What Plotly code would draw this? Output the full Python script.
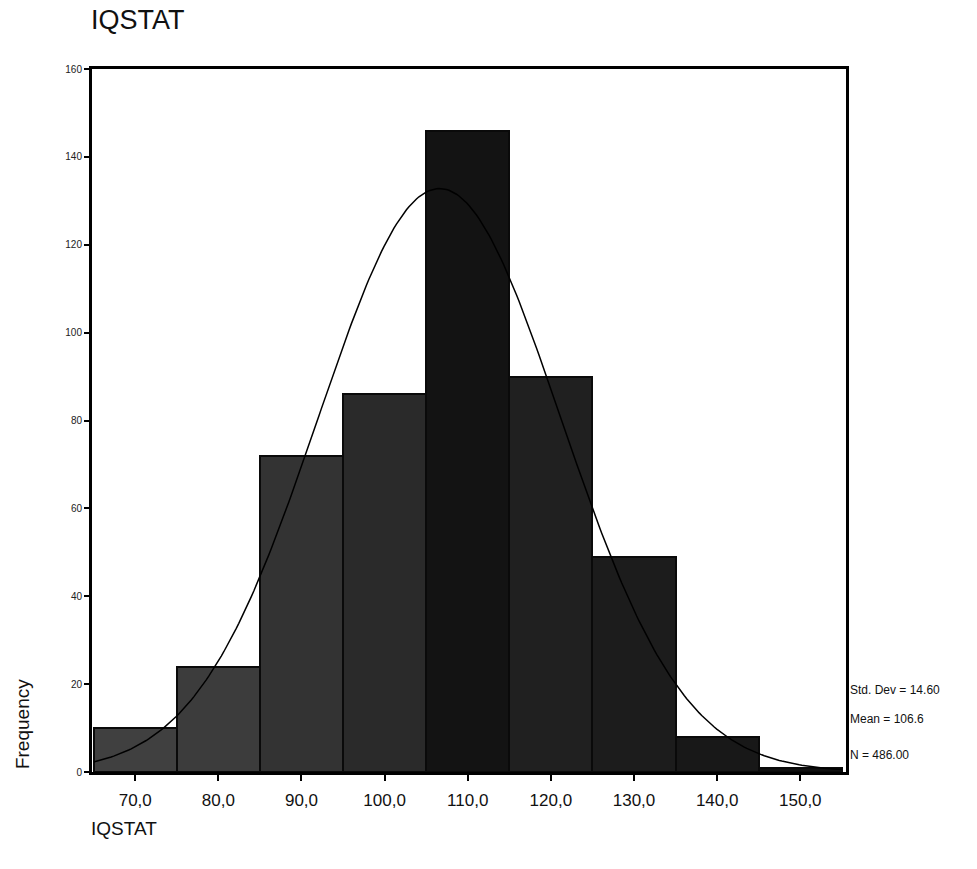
import numpy as np
import plotly.graph_objects as go

# Data
bin_centers = [70, 80, 90, 100, 110, 120, 130, 140, 150]
frequencies = [10, 24, 72, 86, 146, 90, 49, 8, 1]
x_tick_values = [70, 80, 90, 100, 110, 120, 130, 140, 150]
x_tick_labels = ["70,0", "80,0", "90,0", "100,0", "110,0", "120,0", "130,0", "140,0", "150,0"]
y_tick_values = [0, 20, 40, 60, 80, 100, 120, 140, 160]
STD_DEV = 14.60
MEAN = 106.6
N = 486.00
BIN_WIDTH = 10

bar_colors = ["#404040", "#3c3c3c", "#333333", "#2a2a2a", "#131313",
              "#202020", "#1c1c1c", "#181818", "#101010"]

# Normal curve from reported statistics
xc = np.linspace(65, 155, 300)
yc = N * BIN_WIDTH / (STD_DEV * np.sqrt(2 * np.pi)) * np.exp(-0.5 * ((xc - MEAN) / STD_DEV) ** 2)

fig = go.Figure()
fig.add_trace(go.Bar(
    x=bin_centers, y=frequencies, width=BIN_WIDTH,
    marker=dict(color=bar_colors, line=dict(color="#0a0a0a", width=2)),
    showlegend=False, hoverinfo="x+y",
))
fig.add_trace(go.Scatter(
    x=xc, y=yc, mode="lines", line=dict(color="#000000", width=1.5),
    showlegend=False, hoverinfo="skip",
))

font_fam = "Liberation Sans, Arial, sans-serif"
fig.update_layout(
    width=977, height=869,
    margin=dict(l=92, r=131, t=69, b=97),
    paper_bgcolor="white", plot_bgcolor="white",
    bargap=0,
    font=dict(family=font_fam, color="#111111"),
    xaxis=dict(
        range=[64.8, 155.5], tickvals=x_tick_values, ticktext=x_tick_labels,
        showgrid=False, zeroline=False, showline=True, linecolor="#000", linewidth=3,
        mirror=True, ticks="outside", ticklen=6, tickwidth=2, tickcolor="#000",
        ticklabelstandoff=5,
        tickfont=dict(size=17, family=font_fam, color="#111"),
    ),
    yaxis=dict(
        range=[0, 160], tickvals=y_tick_values,
        showgrid=False, zeroline=False, showline=True, linecolor="#000", linewidth=3,
        mirror=True, ticks="outside", ticklen=5, tickwidth=2, tickcolor="#000",
        tickfont=dict(size=10, family=font_fam, color="#222"),
    ),
    annotations=[
        dict(text="IQSTAT", xref="paper", yref="paper", x=-0.004, y=1.069, xanchor="left",
             yanchor="middle", showarrow=False, font=dict(size=27, color="#111")),
        dict(text="IQSTAT", xref="paper", yref="paper", x=-0.004, y=-0.08, xanchor="left",
             yanchor="middle", showarrow=False, font=dict(size=19, color="#111")),
        dict(text="Frequency", xref="paper", yref="paper", x=-0.093, y=0.068, xanchor="center",
             yanchor="middle", textangle=-90, showarrow=False, font=dict(size=19, color="#111")),
        dict(text="Std. Dev = 14.60", xref="paper", yref="paper", x=1.003, y=0.116, xanchor="left",
             yanchor="middle", showarrow=False, font=dict(size=12, color="#111")),
        dict(text="Mean = 106.6", xref="paper", yref="paper", x=1.003, y=0.076, xanchor="left",
             yanchor="middle", showarrow=False, font=dict(size=12, color="#111")),
        dict(text="N = 486.00", xref="paper", yref="paper", x=1.003, y=0.024, xanchor="left",
             yanchor="middle", showarrow=False, font=dict(size=12, color="#111")),
    ],
)

fig.write_html("out.html")
